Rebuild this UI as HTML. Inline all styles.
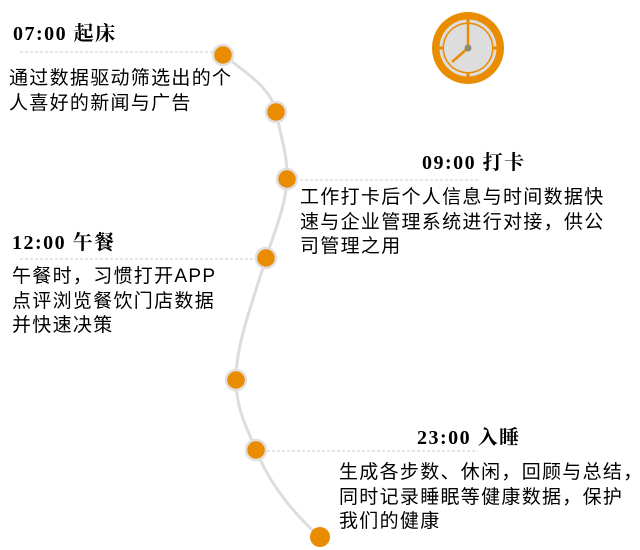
<!DOCTYPE html>
<html><head><meta charset="utf-8"><style>
body{margin:0;width:640px;height:550px;background:#fff;overflow:hidden;position:relative;font-family:"Liberation Sans","Noto Sans CJK SC",sans-serif;color:#000}
.h{position:absolute;font-family:"Liberation Serif","Noto Serif CJK SC",serif;font-weight:bold;font-size:20px;letter-spacing:1.5px;line-height:22px;white-space:nowrap}
.t{position:absolute;font-size:19px;letter-spacing:1.3px;line-height:24.5px;white-space:nowrap}
svg{position:absolute;left:0;top:0}
</style></head><body>
<svg width="640" height="550">
<g stroke="#ccc" stroke-dasharray="3,2" stroke-width="1">
<line x1="20" y1="52" x2="220" y2="52"/>
<line x1="290" y1="180" x2="478" y2="180"/>
<line x1="20" y1="259" x2="262" y2="259"/>
<line x1="262" y1="451" x2="478" y2="451"/>
</g>
<path d="M223,55 C250,75 272,90 276,112 C282,140 288,160 287,179 C286,205 275,230 266,258 C250,310 236,345 236,380 C236,410 248,430 256,450 C270,485 295,515 320,537" fill="none" stroke="#ddd" stroke-width="3"/>
<g fill="#e98c00" stroke="#e0e0e0" stroke-width="2.5">
<circle cx="223" cy="55" r="10"/>
<circle cx="276" cy="112" r="10"/>
<circle cx="287" cy="179" r="10"/>
<circle cx="266" cy="258" r="10"/>
<circle cx="236" cy="380" r="10"/>
<circle cx="256" cy="450" r="10"/>
<circle cx="320" cy="537" r="10" stroke="none"/>
</g>
<circle cx="468" cy="48" r="36" fill="#ea8c00"/>
<circle cx="468" cy="48" r="27" fill="none" stroke="#ddd" stroke-width="3"/>
<circle cx="468" cy="48" r="24" fill="#ddd"/>
<g stroke="#ea8c00" stroke-width="3">
<line x1="468" y1="17" x2="468" y2="23"/><line x1="468" y1="73" x2="468" y2="79"/>
<line x1="437" y1="48" x2="443" y2="48"/><line x1="493" y1="48" x2="499" y2="48"/>
</g>
<g stroke="#ea8c00" stroke-width="2.5"><line x1="468" y1="48" x2="468" y2="20"/><line x1="468" y1="48" x2="452" y2="62"/></g>
<circle cx="468" cy="48" r="3.5" fill="#8f8a70"/>
</svg>
<div class="h" style="left:13px;top:23px">07:00 起床</div>
<div class="t" style="left:9px;top:67px">通过数据驱动筛选出的个<br>人喜好的新闻与广告</div>
<div class="h" style="left:422px;top:152px">09:00 打卡</div>
<div class="t" style="left:300px;top:186px">工作打卡后个人信息与时间数据快<br>速与企业管理系统进行对接，供公<br>司管理之用</div>
<div class="h" style="left:12px;top:232px">12:00 午餐</div>
<div class="t" style="left:12px;top:265px">午餐时，习惯打开APP<br>点评浏览餐饮门店数据<br>并快速决策</div>
<div class="h" style="left:417px;top:427px">23:00 入睡</div>
<div class="t" style="left:339px;top:461px">生成各步数、休闲，回顾与总结，<br>同时记录睡眠等健康数据，保护<br>我们的健康</div>
</body></html>
